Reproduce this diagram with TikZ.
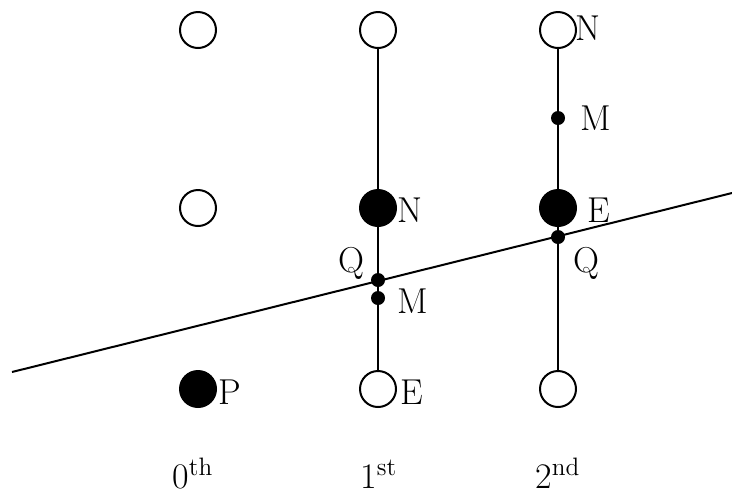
\documentclass[tikz,border=0pt]{standalone}
\begin{document}
\begin{tikzpicture}[x=0.5pt,y=-0.5pt,
  open/.style={circle,draw,fill=white,minimum size=18pt,inner sep=0pt,line width=1pt},
  big/.style={circle,fill=black,minimum size=19pt,inner sep=0pt},
  dot/.style={circle,fill=black,minimum size=7pt,inner sep=0pt},
  lbl/.style={anchor=base west,inner sep=0pt,font=\fontsize{18}{21}\selectfont},
  ln/.style={line width=1pt}]
\useasboundingbox (0,0) rectangle (732,500);
% column 0
\node[open] (t0) at (198,30) {};
\node[open] (m0) at (198,208) {};
\node[big] (p) at (198,389) {};
% column 1
\node[open] (t1) at (378,30) {};
\node[big] (n1) at (378,208) {};
\node[dot] (q1) at (378,280) {};
\node[dot] (mm1) at (378,298) {};
\node[open] (e1) at (378,389) {};
% column 2
\node[open] (t2) at (558,30) {};
\node[dot] (mm2) at (558,118) {};
\node[big] (e2) at (558,208) {};
\node[dot] (q2) at (558,237) {};
\node[open] (b2) at (558,389) {};
% vertical lines
\draw[ln] (t1) -- (e1);
\draw[ln] (t2) -- (b2);
% diagonal line
\coordinate (L1) at (12,372);
\coordinate (L2) at (732,193);
\draw[ln] (L1) -- (L2);
% labels
\node[lbl] (lN2) at (575,40) {N};
\node[lbl] (lM2) at (580,130) {M};
\node[lbl] (lE2) at (587,222) {E};
\node[lbl] (lQ2) at (573,272) {Q};
\node[lbl] (lN1) at (397,222) {N};
\node[lbl] (lQ1) at (338,272) {Q};
\node[lbl] (lM1) at (397,313) {M};
\node[lbl] (lP) at (218,404) {P};
\node[lbl] (lE1) at (400,404) {E};
% bottom labels
\node[lbl] (c0) at (172,488) {0\textsuperscript{th}};
\node[lbl] (c1) at (360,488) {1\textsuperscript{st}};
\node[lbl] (c2) at (535,488) {2\textsuperscript{nd}};
\end{tikzpicture}
\end{document}
